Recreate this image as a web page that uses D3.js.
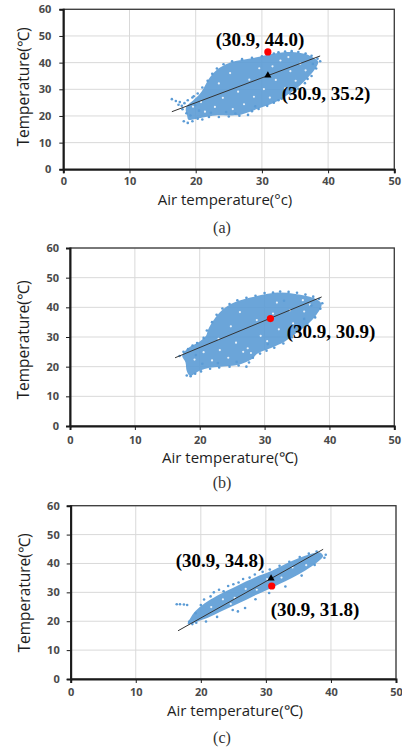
<!DOCTYPE html>
<html>
<head>
<meta charset="utf-8">
<script src="https://cdn.jsdelivr.net/npm/d3@7"></script>
<style>
  html, body { margin: 0; padding: 0; background: #fff; }
  svg { display: block; }
</style>
</head>
<body>
<div class="canvas"></div>
<script>
const xTicks = [0, 10, 20, 30, 40, 50];
const yTicks = [0, 10, 20, 30, 40, 50, 60];

// (a) cloud outline, edge points, gaps, fitted line, markers
const hullA = [[18.6,23.6],[19.6,25.8],[20.6,28.2],[21.2,30.4],[21.6,32.3],[22.3,35.0],[23.2,37.3],[24.5,39.3],[26.0,40.6],[27.8,41.4],[29.6,42.2],[31.5,43.2],[33.3,43.9],[35.0,43.9],[36.6,43.2],[37.8,41.8],[38.5,40.3],[38.0,37.5],[37.0,34.5],[35.8,31.5],[34.4,28.8],[32.8,26.2],[31.2,24.3],[29.5,22.8],[28.2,21.6],[26.8,20.5],[25.0,20.2],[23.0,20.2],[21.3,19.5],[19.8,18.8],[18.9,18.6],[18.7,20.2],[18.5,22.0]];
const dotsA = [[16.4,26.3],[17.0,25.6],[17.6,25.2],[18.3,24.8],[18.0,22.5],[18.6,21.0],[18.2,18.0],[18.8,17.4],[19.5,18.0],[19.2,20.2],[20.3,19.0],[21.0,18.7],[22.0,19.6],[23.5,19.6],[25.0,19.8],[26.6,20.1],[27.9,20.4],[28.5,21.8],[29.5,22.6],[30.8,23.8],[31.8,25.0],[33.0,26.5],[34.3,28.2],[35.5,30.2],[36.5,32.3],[37.5,35.0],[38.2,37.8],[38.8,40.5],[38.4,41.5],[37.5,42.6],[36.6,43.4],[35.5,44.0],[34.5,44.3],[33.5,44.2],[32.5,43.9],[31.8,43.4],[30.0,42.4],[28.5,41.8],[27.0,41.3],[25.5,40.5],[24.2,39.4],[23.2,37.8],[22.5,35.8],[21.8,33.2],[21.0,30.7],[20.3,28.4],[19.5,26.9],[19.9,24.0],[20.5,22.0],[22.3,21.2],[24.6,21.5],[26.0,20.9],[29.0,23.6],[32.5,25.9],[34.9,29.6],[36.9,33.9],[37.7,39.5],[17.9,23.8],[18.8,25.9],[19.7,27.4],[17.4,24.2]];
const gapsA = [[19.6,23.5],[20.8,25.2],[21.4,21.6],[22.9,23.4],[24.1,26.8],[25.6,22.6],[26.4,29.1],[27.3,24.4],[28.1,33.6],[28.8,27.2],[29.6,37.9],[30.3,30.1],[31.2,26.9],[32.1,33.5],[32.8,40.8],[33.5,30.4],[34.3,36.8],[35.1,33.2],[35.8,39.6],[36.6,37.1],[34.0,42.1],[23.5,32.2],[25.2,36.1],[31.6,38.6]];
const fitA = [[16.4,21.6],[38.8,42.5]];
const redA = [30.9, 44.0];
const triA = [30.9, 35.2];
const labelsA = ['(30.9, 44.0)', '(30.9, 35.2)'];

// (b)
const hullB = [[17.5,24.6],[18.5,26.7],[20.0,28.5],[21.0,30.5],[21.3,32.5],[22.4,36.5],[24.0,40.0],[26.0,42.2],[28.2,43.5],[30.5,44.6],[32.5,45.0],[34.5,44.6],[36.5,43.8],[38.2,42.5],[38.8,41.0],[38.0,37.5],[36.5,34.0],[35.0,31.5],[33.2,28.6],[31.0,26.3],[29.0,24.5],[28.0,22.5],[26.5,21.0],[25.0,20.3],[23.2,20.0],[21.5,19.6],[20.0,18.6],[18.5,16.9],[18.0,18.5],[17.8,21.5],[17.3,23.5]];
const dotsB = [[17.5,25.0],[16.9,23.6],[18.2,25.9],[18.0,17.0],[18.6,16.8],[19.3,17.6],[20.2,18.4],[21.6,19.3],[23.0,19.7],[24.6,20.0],[26.0,20.4],[27.2,20.0],[27.6,21.4],[28.2,23.0],[29.3,24.4],[30.3,25.4],[31.5,26.4],[32.9,27.8],[34.2,29.9],[35.4,32.0],[36.6,34.2],[37.8,36.6],[38.6,39.5],[38.9,41.4],[38.4,42.8],[37.5,43.6],[36.3,44.3],[35.0,44.9],[33.7,45.2],[32.4,45.3],[31.3,45.0],[30.0,44.8],[28.6,43.9],[27.2,43.2],[25.8,42.4],[24.6,41.1],[23.5,39.6],[22.6,37.5],[21.9,35.0],[21.1,32.2],[20.6,29.7],[19.6,28.0],[18.9,27.1],[19.4,23.9],[20.4,21.0],[22.8,21.2],[25.7,21.6],[30.5,27.6],[33.6,30.7],[36.1,36.1],[37.2,40.6],[33.0,42.2]];
const gapsB = [[19.2,22.4],[20.6,24.9],[21.9,22.1],[23.1,25.6],[24.4,23.0],[25.6,28.1],[26.7,25.0],[27.4,26.2],[27.9,24.6],[28.8,35.7],[29.4,30.4],[30.4,28.6],[31.3,37.9],[32.2,32.6],[33.9,39.0],[34.4,34.6],[35.4,32.9],[36.1,38.6],[37.0,40.9],[24.8,33.6],[26.2,38.4],[22.9,29.4],[31.9,41.6],[35.9,42.4]];
const fitB = [[16.2,23.0],[38.8,43.5]];
const redB = [30.9, 36.2];
const labelsB = ['(30.9, 30.9)'];

// (c)
const hullC = [[18.0,19.0],[20.0,20.3],[22.0,22.2],[24.0,24.3],[26.0,26.4],[28.0,28.6],[30.0,30.6],[32.0,32.8],[34.0,35.0],[36.0,37.5],[38.0,40.6],[38.8,42.6],[38.3,43.8],[37.0,43.4],[35.0,41.8],[33.0,39.8],[31.0,37.6],[29.0,35.8],[27.0,33.8],[25.0,31.6],[23.0,29.4],[21.0,26.8],[19.5,24.2],[18.5,21.5]];
const dotsC = [[16.3,25.9],[16.8,25.9],[17.4,25.8],[17.9,25.6],[18.2,19.8],[18.7,19.0],[19.3,19.5],[20.8,19.9],[22.5,21.5],[25.7,23.4],[26.8,24.6],[24.9,23.9],[28.4,27.6],[30.5,29.8],[33.0,32.0],[35.5,35.8],[37.5,39.5],[39.2,43.0],[39.0,42.0],[20.5,27.5],[21.5,28.6],[22.0,30.0],[22.8,30.9],[23.5,30.4],[24.2,32.2],[25.0,32.8],[25.8,33.4],[26.5,34.6],[27.5,35.1],[28.3,36.2],[29.5,37.1],[30.6,37.9],[32.1,39.2],[33.6,40.6],[35.2,42.2],[36.6,43.4],[37.8,44.1],[19.2,22.8],[20.0,25.6]];
const gapsC = [[21.6,24.9],[23.4,27.6],[25.2,28.1],[26.9,31.2],[28.6,30.9],[30.2,34.6],[32.4,35.1],[34.1,38.6],[36.2,39.4],[24.6,26.0]];
const fitC = [[16.5,16.7],[38.8,44.9]];
const redC = [30.9, 32.2];
const triC = [30.8, 34.8];
const labelsC = ['(30.9, 34.8)', '(30.9, 31.8)'];

const captions = ['(a)', '(b)', '(c)'];
const xTitles = ['Air temperature(°c)', 'Air temperature(℃)', 'Air temperature(℃)'];
const yTitle = 'Temperature(℃)';

// layout of each panel in pixels
const panels = [
    { left: 63.3, right: 394.3, top: 9.3, bottom: 169.3, xPad: 4, yPad: 8,
      xt: [225, 205], yt: [24, 87], cap: [222, 233],
      hull: hullA, dots: dotsA, gaps: gapsA, fit: fitA, red: redA, tri: triA,
      labels: [[260, 46, labelsA[0]], [326, 100, labelsA[1]]] },
    { left: 70, right: 394.3, top: 248, bottom: 426, xPad: 6, yPad: 7,
      xt: [230, 463], yt: [24, 340], cap: [222, 488],
      hull: hullB, dots: dotsB, gaps: gapsB, fit: fitB, red: redB, tri: null,
      labels: [[331, 338, labelsB[0]]] },
    { left: 70.7, right: 396, top: 505.7, bottom: 679, xPad: 5, yPad: 7,
      xt: [235, 716], yt: [25, 593], cap: [222, 743],
      hull: hullC, dots: dotsC, gaps: gapsC, fit: fitC, red: redC, tri: triC,
      labels: [[220, 567, labelsC[0]], [315, 616, labelsC[1]]] }
];

const svg = d3.select('.canvas')
    .append('svg')
    .attr('width', 402)
    .attr('height', 749)
;

svg.append('rect').attr('width', 402).attr('height', 749).attr('fill', '#fff');

const blue = '#5b9bd5';

panels.forEach((p, i) => {
    const x = d3.scaleLinear().domain([0, 50]).range([p.left, p.right]);
    const y = d3.scaleLinear().domain([0, 60]).range([p.bottom, p.top]);
    const g = svg.append('g');

    // grid
    g.selectAll('.vg').data(xTicks).enter().append('line')
        .attr('x1', d => x(d)).attr('x2', d => x(d))
        .attr('y1', p.top).attr('y2', p.bottom)
        .attr('stroke', '#d9d9d9').attr('stroke-width', 1);
    g.selectAll('.hg').data(yTicks).enter().append('line')
        .attr('x1', p.left).attr('x2', p.right)
        .attr('y1', d => y(d)).attr('y2', d => y(d))
        .attr('stroke', '#d9d9d9').attr('stroke-width', 1);

    // frame
    g.append('rect')
        .attr('x', p.left).attr('y', p.top)
        .attr('width', p.right - p.left).attr('height', p.bottom - p.top)
        .attr('fill', 'none').attr('stroke', '#3a3a3a').attr('stroke-width', 1.3);

    // cloud
    const line = d3.line().x(d => x(d[0])).y(d => y(d[1]));
    g.append('path')
        .attr('d', line.curve(d3.curveCatmullRomClosed)(p.hull))
        .attr('fill', blue).attr('fill-opacity', 0.9);
    g.selectAll('.gap').data(p.gaps).enter().append('circle')
        .attr('cx', d => x(d[0])).attr('cy', d => y(d[1]))
        .attr('r', 1.1).attr('fill', '#fff').attr('fill-opacity', 0.85);
    g.selectAll('.dot').data(p.dots).enter().append('circle')
        .attr('cx', d => x(d[0])).attr('cy', d => y(d[1]))
        .attr('r', 1.3).attr('fill', blue);

    // fitted line
    g.append('path')
        .attr('d', d3.line().x(d => x(d[0])).y(d => y(d[1]))(p.fit))
        .attr('stroke', '#333').attr('stroke-width', 1).attr('fill', 'none');

    if (p.tri) {
        g.append('path')
            .attr('d', d3.symbol(d3.symbolTriangle, 22)())
            .attr('transform', `translate(${x(p.tri[0])},${y(p.tri[1])})`)
            .attr('fill', '#000');
    }
    g.append('circle')
        .attr('cx', x(p.red[0])).attr('cy', y(p.red[1]))
        .attr('r', 3.6).attr('fill', '#ff0000');

    // axes
    const ax = g.append('g').attr('transform', `translate(0,${p.bottom})`)
        .call(d3.axisBottom(x).tickValues(xTicks).tickSize(4).tickPadding(p.xPad));
    const ay = g.append('g').attr('transform', `translate(${p.left},0)`)
        .call(d3.axisLeft(y).tickValues(yTicks).tickSize(4).tickPadding(p.yPad));
    [ax, ay].forEach(a => {
        a.select('.domain').attr('stroke', '#1a1a1a').attr('stroke-width', 2);
        a.selectAll('.tick line').attr('stroke', '#1a1a1a');
        a.selectAll('text')
            .attr('font-family', '"Open Sans", sans-serif')
            .attr('font-weight', 'bold')
            .attr('font-size', 11)
            .attr('fill', '#4a4a4a');
    });

    // titles
    g.append('text')
        .attr('x', p.xt[0]).attr('y', p.xt[1])
        .attr('text-anchor', 'middle')
        .attr('font-family', '"Open Sans", sans-serif')
        .attr('font-size', 15).attr('fill', '#1e1e1e')
        .text(xTitles[i]);
    g.append('text')
        .attr('transform', `translate(${p.yt[0] + 5},${p.yt[1]}) rotate(-90)`)
        .attr('text-anchor', 'middle')
        .attr('font-family', '"Open Sans", sans-serif')
        .attr('font-size', 15.5).attr('fill', '#1e1e1e')
        .text(yTitle);

    p.labels.forEach(l => {
        g.append('text')
            .attr('x', l[0]).attr('y', l[1])
            .attr('text-anchor', 'middle')
            .attr('font-family', '"Liberation Serif", "Times New Roman", serif')
            .attr('font-weight', 'bold')
            .attr('font-size', 19).attr('fill', '#000')
            .text(l[2]);
    });

    g.append('text')
        .attr('x', p.cap[0]).attr('y', p.cap[1])
        .attr('text-anchor', 'middle')
        .attr('font-family', '"Liberation Serif", "Times New Roman", serif')
        .attr('font-size', 16).attr('fill', '#333')
        .text(captions[i]);
});
</script>
</body>
</html>
